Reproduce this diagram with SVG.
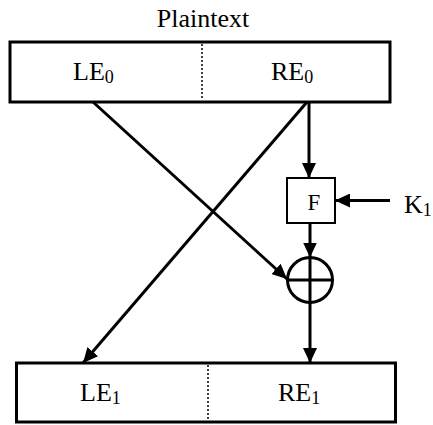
<svg xmlns="http://www.w3.org/2000/svg" width="433" height="425" viewBox="0 0 433 425">
  <defs>
    <marker id="arrow" viewBox="0 0 15 14" refX="15" refY="7" markerWidth="15" markerHeight="14" markerUnits="userSpaceOnUse" orient="auto">
      <path d="M0,0 L15,7 L0,14 Z" fill="#000"/>
    </marker>
  </defs>
  <style>
    text { font-family: "Liberation Serif", "Times New Roman", serif; fill: #000; }
    .lbl { font-size: 26px; }
    .sub { font-size: 18px; }
    .block { fill: #fff; stroke: #000; stroke-width: 3; }
    .divider { stroke: #000; stroke-width: 1.5; stroke-dasharray: 2 2; }
    .wire { fill: none; stroke: #000; stroke-width: 3; marker-end: url(#arrow); }
  </style>
  <rect width="433" height="425" fill="#fff"/>

  <text class="lbl" x="203" y="27" text-anchor="middle">Plaintext</text>

  <!-- input halves -->
  <g id="input">
    <rect class="block" x="10" y="42" width="380" height="60"/>
    <line class="divider" x1="202" y1="44" x2="202" y2="100"/>
    <text class="lbl" x="73" y="80">LE<tspan class="sub" dy="3">0</tspan></text>
    <text class="lbl" x="271" y="80">RE<tspan class="sub" dy="3">0</tspan></text>
  </g>

  <!-- round function -->
  <g id="f">
    <rect x="287" y="178" width="48" height="45" fill="#fff" stroke="#000" stroke-width="2"/>
    <text x="314" y="210" font-size="23" text-anchor="middle">F</text>
  </g>

  <!-- subkey -->
  <g id="k1">
    <text class="lbl" x="404" y="213">K<tspan class="sub" dy="3">1</tspan></text>
  </g>

  <!-- exclusive-or -->
  <g id="xor" fill="none" stroke="#000" stroke-width="3">
    <circle cx="310" cy="280" r="22.5"/>
    <line x1="287.5" y1="280" x2="332.5" y2="280"/>
    <line x1="310" y1="257.5" x2="310" y2="302.5"/>
  </g>

  <!-- output halves -->
  <g id="output">
    <rect class="block" x="16.5" y="363" width="379" height="59"/>
    <line class="divider" x1="208" y1="365" x2="208" y2="421"/>
    <text class="lbl" x="80" y="401">LE<tspan class="sub" dy="3">1</tspan></text>
    <text class="lbl" x="278" y="401">RE<tspan class="sub" dy="3">1</tspan></text>
  </g>

  <g id="connectors">
    <line class="wire" x1="309" y1="102" x2="309" y2="178"/>
    <line class="wire" x1="310" y1="223" x2="310" y2="257.5"/>
    <line class="wire" x1="310" y1="302.5" x2="310" y2="363"/>
    <line class="wire" x1="390" y1="200.5" x2="335" y2="200.5"/>
    <line class="wire" x1="93" y1="102" x2="287" y2="279"/>
    <line class="wire" x1="307" y1="102" x2="83" y2="363"/>
  </g>
</svg>
